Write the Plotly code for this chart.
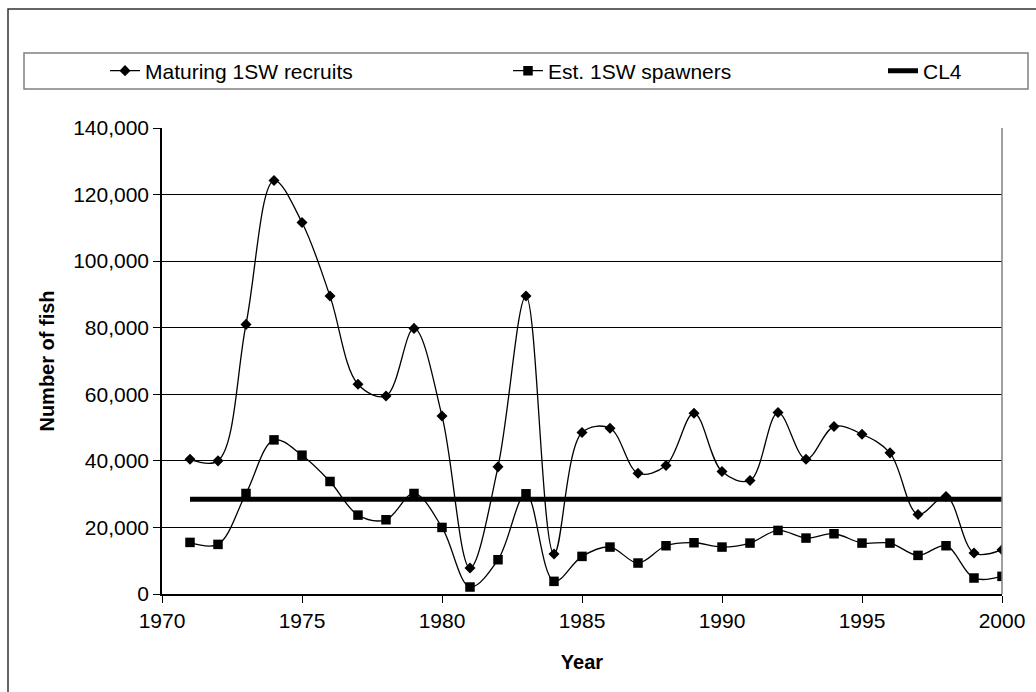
import plotly.graph_objects as go

# ── DATA ─────────────────────────────────────
years = list(range(1971, 2001))

recruits = [40500, 40000, 81000, 124200, 111600, 89500, 63000, 59500, 79800, 53500,
            7800, 38200, 89500, 12000, 48500, 49800, 36300, 38600, 54300, 36800,
            34100, 54500, 40500, 50300, 48000, 42400, 23900, 29300, 12300, 13300]

spawners = [15500, 14900, 30200, 46300, 41700, 33800, 23700, 22300, 30200, 20000,
            2100, 10300, 30100, 3800, 11300, 14100, 9300, 14500, 15400, 14100,
            15300, 19100, 16800, 18100, 15300, 15300, 11600, 14500, 4800, 5300]

cl4_years = [1971, 2000]
cl4_values = [28500, 28500]

y_ticks = [0, 20000, 40000, 60000, 80000, 100000, 120000, 140000]
x_ticks = [1970, 1975, 1980, 1985, 1990, 1995, 2000]

# ── GEOMETRY (pixels of the 1036x692 page) ───
W, H = 1036, 692
PL, PR, PT, PB = 162, 1002, 128, 594
FONT = "Liberation Sans, Arial, sans-serif"


def px(x):
    return (x - PL) / (PR - PL)


def py(y):
    return (PB - y) / (PB - PT)


fig = go.Figure()

fig.add_trace(go.Scatter(
    x=years, y=recruits, name="Maturing 1SW recruits",
    mode="lines+markers", line=dict(color="black", width=1.3, shape="spline", smoothing=1),
    marker=dict(symbol="diamond", size=8.5, color="black"),
    legend="legend", showlegend=True,
))
fig.add_trace(go.Scatter(
    x=years, y=spawners, name="Est. 1SW spawners",
    mode="lines+markers", line=dict(color="black", width=1.3, shape="spline", smoothing=1),
    marker=dict(symbol="square", size=9.5, color="black"),
    legend="legend2", showlegend=True,
))
fig.add_trace(go.Scatter(
    x=cl4_years, y=cl4_values, name="CL4",
    mode="lines", line=dict(color="black", width=5),
    legend="legend3", showlegend=True,
))

leg = dict(orientation="h", yanchor="middle", y=py(71), xanchor="left",
           bgcolor="rgba(0,0,0,0)", borderwidth=0,
           font=dict(family=FONT, size=21, color="black"))

fig.update_layout(
    width=W, height=H,
    showlegend=True,
    margin=dict(l=PL, r=W - PR, t=PT, b=H - PB),
    plot_bgcolor="white", paper_bgcolor="white",
    font=dict(family=FONT, size=21, color="black"),
    legend=dict(leg, x=px(105)),
    legend2=dict(leg, x=px(508)),
    legend3=dict(leg, x=px(883)),
    xaxis=dict(
        range=[1970, 2000], tickvals=x_ticks, showgrid=False,
        showline=True, linecolor="black", linewidth=1.5,
        ticks="outside", ticklen=7, tickcolor="black", tickwidth=1,
        zeroline=False,
        title=dict(text="<b>Year</b>", font=dict(size=20), standoff=24),
    ),
    yaxis=dict(
        range=[0, 140000], tickvals=y_ticks, tickformat=",d",
        showgrid=True, gridcolor="black", gridwidth=1,
        showline=True, linecolor="black", linewidth=1.5,
        ticks="outside", ticklen=7, tickcolor="black", tickwidth=1,
        zeroline=False,
        title=dict(text="<b>Number of fish</b>", font=dict(size=20), standoff=13),
    ),
    shapes=[
        # outer chart border (runs past the right and bottom page edges)
        dict(type="rect", xref="paper", yref="paper",
             x0=px(8), x1=px(1100), y0=py(740), y1=py(9),
             line=dict(color="#333333", width=1.5), layer="below"),
        # legend box
        dict(type="rect", xref="paper", yref="paper",
             x0=px(24), x1=px(1028), y0=py(89), y1=py(53),
             line=dict(color="#808080", width=1.5)),
        # plot area right edge
        dict(type="line", xref="paper", yref="paper", x0=1, x1=1, y0=0, y1=1,
             line=dict(color="#808080", width=1.5)),
    ],
)

fig.write_html("out.html", config={"displayModeBar": False},
               post_script="document.body.style.margin='0';")
